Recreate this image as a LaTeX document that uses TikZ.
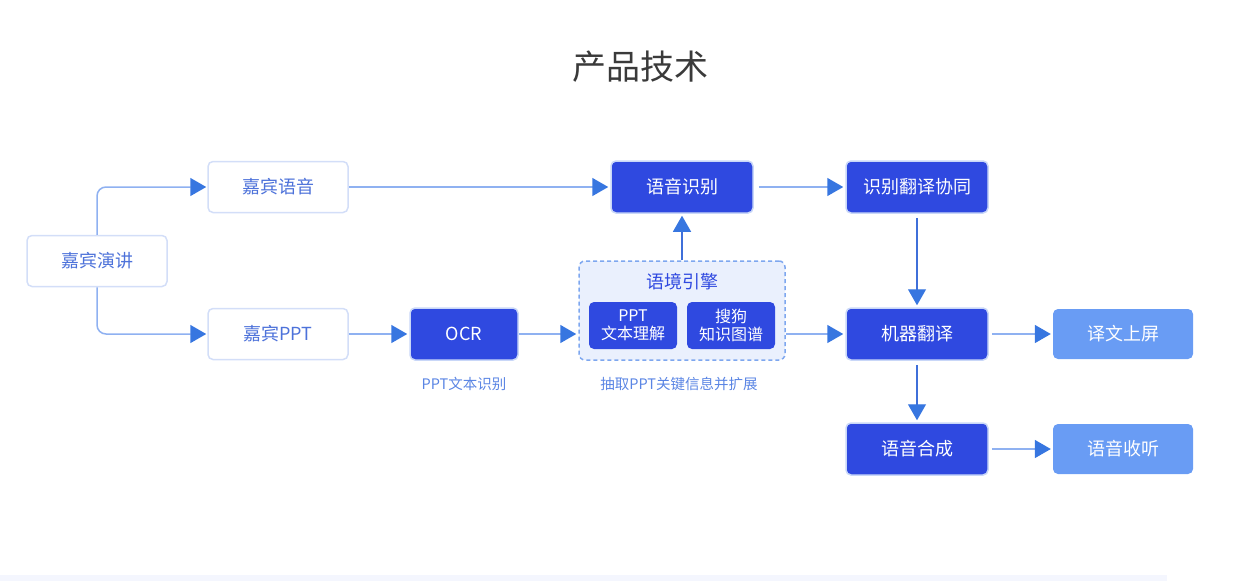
\documentclass[tikz,border=0pt]{standalone}
\usepackage{fontspec}
\setmainfont{Noto Sans CJK SC}
\usetikzlibrary{arrows.meta}

\definecolor{titlegray}{HTML}{3A3A3A}
\definecolor{softline}{HTML}{D3DEF8}
\definecolor{softtext}{HTML}{4D72DA}
\definecolor{deepblue}{HTML}{2F49E0}
\definecolor{deepedge}{HTML}{C9D7F8}
\definecolor{skyblue}{HTML}{699CF4}
\definecolor{enginefill}{HTML}{EAF0FD}
\definecolor{enginedash}{HTML}{7EA7EF}
\definecolor{flowlight}{HTML}{8FB1F1}
\definecolor{flowdark}{HTML}{3F6FD9}
\definecolor{tipblue}{HTML}{3776E0}
\definecolor{notetext}{HTML}{5A85E4}
\definecolor{stripblue}{HTML}{F4F6FE}

\tikzset{
  inputbox/.style={draw=softline, line width=1.5pt, fill=white, rounded corners=5pt,
    text=softtext, minimum width=140pt, minimum height=51pt, font=\fontsize{18}{22}\selectfont},
  corebox/.style={draw=deepedge, line width=1.5pt, fill=deepblue, rounded corners=5pt,
    text=white, minimum width=142pt, minimum height=52pt, font=\fontsize{18}{22}\selectfont},
  innerbox/.style={fill=deepblue, rounded corners=5pt, text=white, align=center,
    minimum width=88pt, minimum height=47pt, font=\fontsize{16}{18}\selectfont},
  outbox/.style={fill=skyblue, rounded corners=5pt, text=white,
    minimum width=140pt, minimum height=50pt, font=\fontsize{18}{22}\selectfont},
  note/.style={text=notetext, font=\fontsize{14.5}{16}\selectfont},
  flow/.style={draw=flowlight, line width=1.5pt, -{Triangle[length=16pt,width=18pt,color=tipblue]}},
  flowdown/.style={flow, draw=flowdark, line width=1.2pt}
}

\begin{document}
\begin{tikzpicture}[x=1pt,y=-1pt]
        \useasboundingbox (0,0) rectangle (1233,581);
        % bottom strip
        \fill[stripblue] (0,575) rectangle (1167,581);

        % Title
        \node[text=titlegray, font=\fontsize{34}{40}\selectfont] (title) at (640,67) {产品技术};

        % Inputs
        \node[inputbox] (lecture) at (97,261) {嘉宾演讲};
        \node[inputbox] (voice) at (278,187) {嘉宾语音};
        \node[inputbox] (slides) at (278,334) {嘉宾PPT};

        % Recognition
        \node[corebox] (asr) at (682,187) {语音识别};
        \node[corebox, minimum width=108pt] (ocr) at (464,334) {OCR};
        \node[note] (ocrnote) at (464,384) {PPT文本识别};

        % Context engine
        \node[draw=enginedash, line width=1.5pt, dash pattern=on 4pt off 3pt, fill=enginefill,
          rounded corners=6pt, minimum width=206pt, minimum height=99pt] (engine) at (682,310.5) {};
        \node[text=deepblue, font=\fontsize{18}{22}\selectfont] (enginetitle) at (682,282) {语境引擎};
        \node[innerbox] (pptnlu) at (633,325.5) {PPT\\文本理解};
        \node[innerbox] (graph) at (731,325.5) {搜狗\\知识图谱};
        \node[note] (enginenote) at (679,384) {抽取PPT关键信息并扩展};

        % Translation
        \node[corebox] (cowork) at (917,187) {识别翻译协同};
        \node[corebox] (mt) at (917,334) {机器翻译};
        \node[corebox] (tts) at (917,449) {语音合成};

        % Outputs
        \node[outbox] (screen) at (1123,334) {译文上屏};
        \node[outbox] (listen) at (1123,449) {语音收听};

        % Connectors
        \draw[flow, rounded corners=9pt, shorten >=1pt] (lecture.north) |- (voice.west);
        \draw[flow, rounded corners=9pt, shorten >=1pt] (lecture.south) |- (slides.west);
        \draw[flow, shorten >=2pt] (voice.east) -- (asr.west);
        \draw[flow, shorten <=5pt, shorten >=2pt] (asr.east) -- (cowork.west);
        \draw[flowdown, shorten <=4pt, shorten >=2pt] (cowork.south) -- (mt.north);
        \draw[flow, shorten >=2pt] (slides.east) -- (ocr.west);
        \draw[flow, shorten >=2pt] (ocr.east) -- (engine.west |- ocr.east);
        \draw[flowdown, shorten >=2pt] (engine.north) -- (asr.south);
        \draw[flow, shorten >=2pt] (engine.east |- mt.west) -- (mt.west);
        \draw[flow, shorten <=3pt, shorten >=2pt] (mt.east) -- (screen.west);
        \draw[flowdown, shorten <=4pt, shorten >=2pt] (mt.south) -- (tts.north);
        \draw[flow, shorten <=3pt, shorten >=2pt] (tts.east) -- (listen.west);
\end{tikzpicture}
\end{document}
